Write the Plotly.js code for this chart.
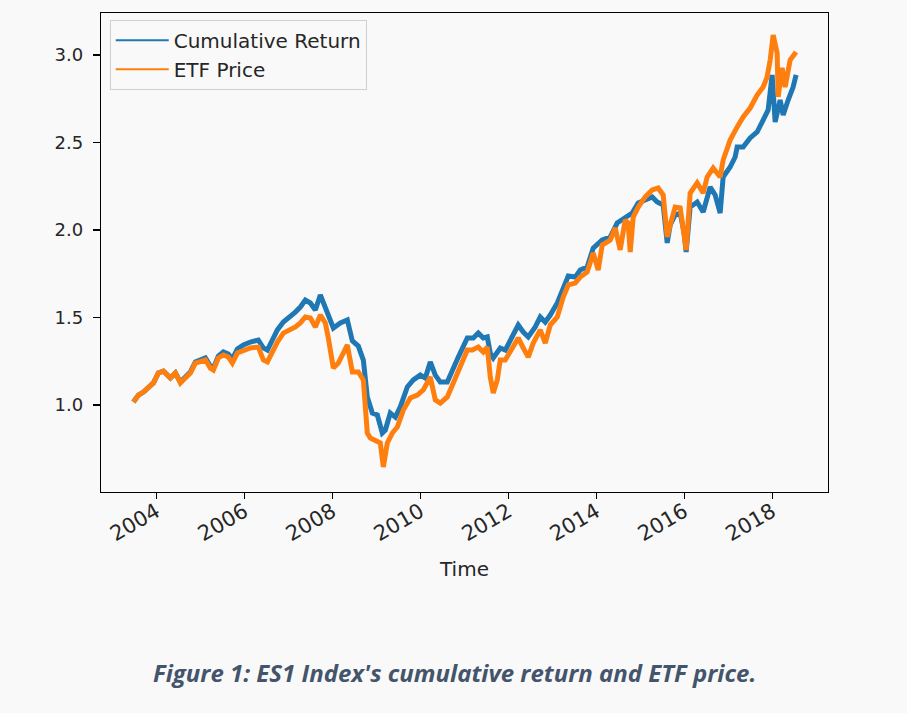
<!DOCTYPE html>
<html>
<head>
<meta charset="utf-8">
<script src="https://cdn.plot.ly/plotly-3.0.1.min.js"></script>
<style>
  html, body { margin: 0; padding: 0; background: #f9f9f9; }
  #chart { width: 907px; height: 713px; }
</style>
</head>
<body>
<div id="chart"></div>
<script>
// Cumulative Return (time as decimal years)
const cumTime = [2003.477,2003.591,2003.705,2003.818,2003.932,2004.045,2004.159,2004.250,2004.318,2004.432,2004.545,2004.659,2004.773,2004.886,2005.000,2005.114,2005.227,2005.295,2005.409,2005.523,2005.636,2005.727,2005.841,2005.977,2006.136,2006.318,2006.432,2006.523,2006.659,2006.750,2006.886,2007.045,2007.159,2007.273,2007.386,2007.500,2007.614,2007.727,2007.795,2007.909,2008.023,2008.182,2008.341,2008.455,2008.591,2008.705,2008.795,2008.909,2009.023,2009.136,2009.205,2009.318,2009.432,2009.545,2009.705,2009.841,2010.000,2010.114,2010.227,2010.341,2010.455,2010.614,2010.727,2010.864,2011.068,2011.205,2011.318,2011.432,2011.523,2011.591,2011.659,2011.818,2011.932,2012.091,2012.227,2012.341,2012.455,2012.614,2012.727,2012.841,2012.955,2013.114,2013.250,2013.364,2013.523,2013.636,2013.795,2013.932,2014.136,2014.318,2014.477,2014.659,2014.818,2014.955,2015.114,2015.273,2015.386,2015.523,2015.614,2015.682,2015.795,2015.909,2016.000,2016.045,2016.136,2016.295,2016.432,2016.591,2016.705,2016.818,2016.886,2017.045,2017.159,2017.205,2017.341,2017.500,2017.659,2017.795,2017.909,2018.000,2018.023,2018.068,2018.182,2018.250,2018.364,2018.477,2018.545];
const cumReturn = [1.017,1.057,1.074,1.097,1.126,1.183,1.194,1.171,1.154,1.183,1.131,1.160,1.189,1.246,1.257,1.269,1.223,1.211,1.280,1.303,1.291,1.263,1.320,1.343,1.360,1.371,1.326,1.314,1.383,1.429,1.474,1.503,1.531,1.560,1.600,1.583,1.543,1.629,1.583,1.503,1.440,1.469,1.486,1.366,1.337,1.257,1.046,0.954,0.943,0.840,0.857,0.954,0.931,0.989,1.103,1.143,1.171,1.154,1.246,1.171,1.131,1.131,1.200,1.274,1.383,1.383,1.411,1.383,1.389,1.297,1.269,1.326,1.314,1.389,1.457,1.417,1.389,1.446,1.503,1.474,1.514,1.583,1.663,1.737,1.731,1.771,1.789,1.897,1.943,1.960,2.040,2.074,2.097,2.154,2.171,2.189,2.160,2.143,1.926,2.029,2.086,2.097,1.983,1.874,2.131,2.160,2.103,2.246,2.200,2.097,2.303,2.360,2.417,2.474,2.474,2.526,2.560,2.629,2.686,2.886,2.800,2.617,2.743,2.657,2.743,2.817,2.886];

// ETF Price
const etfTime = [2003.477,2003.591,2003.705,2003.818,2003.932,2004.045,2004.159,2004.250,2004.318,2004.432,2004.545,2004.659,2004.773,2004.886,2005.000,2005.114,2005.227,2005.295,2005.409,2005.523,2005.636,2005.727,2005.841,2005.977,2006.136,2006.318,2006.432,2006.523,2006.659,2006.750,2006.886,2007.045,2007.159,2007.273,2007.386,2007.500,2007.614,2007.727,2007.841,2007.909,2008.023,2008.136,2008.295,2008.341,2008.455,2008.591,2008.705,2008.795,2008.864,2008.977,2009.091,2009.159,2009.250,2009.364,2009.477,2009.614,2009.773,2009.932,2010.068,2010.227,2010.341,2010.455,2010.614,2010.750,2010.864,2011.068,2011.182,2011.318,2011.432,2011.523,2011.591,2011.659,2011.750,2011.818,2011.932,2012.091,2012.227,2012.341,2012.455,2012.568,2012.727,2012.841,2012.955,2013.114,2013.250,2013.364,2013.523,2013.636,2013.795,2013.932,2014.045,2014.136,2014.318,2014.432,2014.545,2014.659,2014.727,2014.773,2014.841,2014.955,2015.114,2015.273,2015.409,2015.523,2015.614,2015.682,2015.795,2015.909,2016.000,2016.045,2016.136,2016.295,2016.432,2016.523,2016.659,2016.818,2016.886,2017.045,2017.205,2017.341,2017.500,2017.659,2017.795,2017.886,2017.955,2018.023,2018.114,2018.136,2018.227,2018.295,2018.409,2018.545];
const etfPrice = [1.017,1.057,1.074,1.097,1.126,1.183,1.194,1.171,1.154,1.183,1.126,1.154,1.183,1.240,1.246,1.257,1.211,1.200,1.269,1.286,1.274,1.240,1.297,1.314,1.326,1.331,1.257,1.246,1.314,1.360,1.411,1.429,1.446,1.469,1.503,1.497,1.446,1.514,1.469,1.383,1.211,1.240,1.314,1.343,1.189,1.189,1.143,0.840,0.811,0.800,0.783,0.646,0.783,0.840,0.874,0.971,1.040,1.057,1.086,1.160,1.029,1.011,1.046,1.126,1.189,1.314,1.314,1.331,1.303,1.331,1.160,1.069,1.143,1.257,1.257,1.331,1.383,1.326,1.274,1.354,1.429,1.354,1.457,1.503,1.617,1.686,1.697,1.731,1.760,1.869,1.771,1.914,1.943,2.011,1.886,2.057,2.040,1.874,2.074,2.131,2.189,2.229,2.240,2.200,1.960,2.029,2.131,2.126,1.983,1.886,2.211,2.269,2.211,2.303,2.354,2.303,2.400,2.514,2.589,2.646,2.697,2.771,2.817,2.874,2.971,3.114,3.011,2.760,2.926,2.817,2.971,3.017];

const yearTicks = [2004, 2006, 2008, 2010, 2012, 2014, 2016, 2018];
const yearLabels = ['2004', '2006', '2008', '2010', '2012', '2014', '2016', '2018'];
const valueTicks = [1.0, 1.5, 2.0, 2.5, 3.0];
const seriesNames = ['Cumulative Return', 'ETF Price'];
const seriesColors = ['#1f77b4', '#ff7f0e'];
const captionText = "Figure 1: ES1 Index's cumulative return and ETF price.";

const font = 'DejaVu Sans, sans-serif';
const textColor = '#262626';

const data = [
  // data traces (thick, to mimic dense daily series)
  { x: cumTime, y: cumReturn, name: seriesNames[0], type: 'scatter', mode: 'lines',
    showlegend: false, line: { color: seriesColors[0], width: 5 } },
  { x: etfTime, y: etfPrice, name: seriesNames[1], type: 'scatter', mode: 'lines',
    showlegend: false, line: { color: seriesColors[1], width: 5 } },
  // legend entries (thin line samples, no drawn data)
  { x: [null], y: [null], name: seriesNames[0], type: 'scatter', mode: 'lines',
    showlegend: true, line: { color: seriesColors[0], width: 2 } },
  { x: [null], y: [null], name: seriesNames[1], type: 'scatter', mode: 'lines',
    showlegend: true, line: { color: seriesColors[1], width: 2 } }
];

const layout = {
  width: 907, height: 713,
  paper_bgcolor: '#f9f9f9', plot_bgcolor: '#f9f9f9',
  margin: { l: 101, r: 79, t: 13, b: 221 },
  font: { family: font, size: 20, color: textColor },
  showlegend: true,
  legend: {
    x: 0.012, y: 0.986, xanchor: 'left', yanchor: 'top',
    bgcolor: '#f9f9f9', bordercolor: '#d0d0d0', borderwidth: 1,
    font: { family: font, size: 20, color: textColor },
    itemwidth: 53,
    tracegroupgap: 0
  },
  xaxis: {
    range: [2002.74, 2019.27],
    tickvals: yearTicks, ticktext: yearLabels,
    tickangle: -30,
    ticks: 'outside', ticklen: 6, tickwidth: 1.2, tickcolor: '#000',
    ticklabelstandoff: -8,
    showgrid: false, zeroline: false,
    showline: true, linecolor: '#000', linewidth: 1.3, mirror: true,
    tickfont: { family: font, size: 21, color: textColor },
    title: { text: 'Time', font: { family: font, size: 20, color: textColor }, standoff: 16 }
  },
  yaxis: {
    range: [0.503, 3.24],
    tickvals: valueTicks, tickformat: '.1f',
    ticks: 'outside', ticklen: 7, tickwidth: 1.2, tickcolor: '#000',
    ticklabelstandoff: 6,
    showgrid: false, zeroline: false,
    showline: true, linecolor: '#000', linewidth: 1.3, mirror: true,
    tickfont: { family: font, size: 18, color: textColor }
  },
  annotations: [{
    text: '<b><i>' + captionText + '</i></b>',
    xref: 'paper', yref: 'paper', x: 0.486, y: -0.376,
    xanchor: 'center', yanchor: 'middle', showarrow: false,
    font: { family: 'Open Sans, sans-serif', size: 24, color: '#44546a' }
  }]
};

Plotly.newPlot('chart', data, layout, { displayModeBar: false, staticPlot: true });
</script>
</body>
</html>
